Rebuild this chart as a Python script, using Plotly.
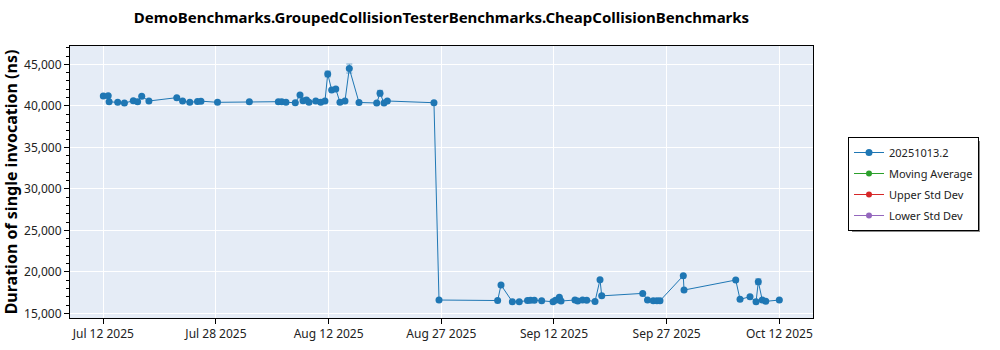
import plotly.graph_objects as go
from datetime import datetime, timedelta

title = "DemoBenchmarks.GroupedCollisionTesterBenchmarks.CheapCollisionBenchmarks"
y_title = "Duration of single invocation (ns)"

dates = [
    "2025-07-12 00:00", "2025-07-12 16:00", "2025-07-12 19:00", "2025-07-13 23:00",
    "2025-07-14 21:00", "2025-07-16 02:00", "2025-07-16 16:00", "2025-07-17 05:30",
    "2025-07-18 05:00", "2025-07-22 00:00", "2025-07-22 19:00", "2025-07-23 18:30",
    "2025-07-24 19:40", "2025-07-25 07:00", "2025-07-27 13:00", "2025-07-31 21:00",
    "2025-08-04 19:40", "2025-08-05 06:40", "2025-08-05 20:40", "2025-08-07 03:00",
    "2025-08-07 18:30", "2025-08-08 04:20", "2025-08-08 15:40", "2025-08-08 23:45",
    "2025-08-09 22:00", "2025-08-10 14:10", "2025-08-11 04:00", "2025-08-11 13:00",
    "2025-08-12 02:00", "2025-08-12 15:20", "2025-08-13 05:00", "2025-08-13 21:20",
    "2025-08-14 11:30", "2025-08-15 19:10", "2025-08-18 05:00", "2025-08-18 15:50",
    "2025-08-19 04:50", "2025-08-19 15:40", "2025-08-26 00:00", "2025-08-26 16:30",
    "2025-09-03 16:00", "2025-09-04 03:00", "2025-09-05 16:00", "2025-09-06 14:40",
    "2025-09-07 17:30", "2025-09-08 03:20", "2025-09-08 15:50", "2025-09-09 15:50",
    "2025-09-11 04:50", "2025-09-11 13:00", "2025-09-12 01:30", "2025-09-12 07:00",
    "2025-09-14 04:30", "2025-09-14 13:40", "2025-09-15 05:20", "2025-09-15 19:00",
    "2025-09-16 22:00", "2025-09-17 14:20", "2025-09-17 20:00", "2025-09-23 09:50",
    "2025-09-24 01:30", "2025-09-24 20:20", "2025-09-25 08:20", "2025-09-25 18:15",
    "2025-09-28 22:20", "2025-09-29 00:45", "2025-10-06 01:40", "2025-10-06 15:40",
    "2025-10-08 00:15", "2025-10-08 20:00", "2025-10-09 03:20", "2025-10-09 16:20",
    "2025-10-10 03:40", "2025-10-12 00:00",
]

values = [
    41180, 41200, 40490, 40420,
    40340, 40600, 40480, 41150,
    40580, 40980, 40580, 40420,
    40520, 40560, 40420, 40490,
    40490, 40500, 40420, 40370,
    41300, 40610, 40700, 40420,
    40580, 40420, 40580, 43830,
    41900, 42020, 40420, 40580,
    44490, 40400, 40340, 41510,
    40340, 40580, 40370, 16600,
    16540, 18410, 16390, 16390,
    16540, 16560, 16560, 16510,
    16390, 16560, 16920, 16480,
    16600, 16480, 16600, 16560,
    16420, 19050, 17100, 17400,
    16600, 16510, 16510, 16510,
    19530, 17800, 19010, 16680,
    17000, 16390, 18800, 16600,
    16440, 16600,
]

errors = [None] * len(values)
errors[27] = 350
errors[32] = 540
errors[35] = 350
errors[70] = 350

tick_labels = ["Jul 12 2025", "Jul 28 2025", "Aug 12 2025", "Aug 27 2025",
               "Sep 12 2025", "Sep 27 2025", "Oct 12 2025"]

series_names = ["20251013.2", "Moving Average", "Upper Std Dev", "Lower Std Dev"]
series_colors = ["#1f77b4", "#2ca02c", "#d62728", "#9467bd"]

# evenly spaced ticks between first and last label dates
t0 = datetime(2025, 7, 12)
t1 = datetime(2025, 10, 12)
n = len(tick_labels) - 1
tickvals = [t0 + (t1 - t0) * k / n for k in range(n + 1)]

font_family = "Noto Sans, Open Sans, DejaVu Sans, sans-serif"

fig = go.Figure()
fig.add_trace(go.Scatter(
    x=dates, y=values, mode="lines+markers", name=series_names[0],
    line=dict(color=series_colors[0], width=1),
    marker=dict(color=series_colors[0], size=7),
    error_y=dict(type="data", array=errors, visible=True,
                 color="rgba(31,119,180,0.6)", thickness=1, width=3),
    legendgroup="a",
))
for nm, col, grp in zip(series_names[1:], series_colors[1:], ["b", "c", "d"]):
    fig.add_trace(go.Scatter(
        x=[None], y=[None], mode="lines+markers", name=nm,
        line=dict(color=col, width=1), marker=dict(color=col, size=6),
        legendgroup=grp,
    ))

L, R, T, B = 70, 187, 46, 32
W, H = 1000, 350
pw = W - L - R
ph = H - T - B

fig.update_layout(
    width=W, height=H,
    margin=dict(l=L, r=R, t=T, b=B, pad=0, autoexpand=False),
    paper_bgcolor="white",
    plot_bgcolor="#e5ecf6",
    font=dict(family=font_family, size=12, color="#222"),
    title=dict(text=f"<b>{title}</b>", x=(L + pw / 2) / W, xanchor="center",
               y=1 - 18 / H, yanchor="middle", yref="container",
               font=dict(size=15, color="black", family=font_family)),
    showlegend=True,
    legend=dict(x=(848 - L) / pw, y=(H - B - 137) / ph, xanchor="left", yanchor="top",
                bgcolor="white", bordercolor="black", borderwidth=1,
                font=dict(size=11, color="#222"), tracegroupgap=2,
                itemwidth=30),
    xaxis=dict(
        type="date",
        range=["2025-07-07 11:15", "2025-10-16 14:00"],
        tickvals=tickvals, ticktext=tick_labels,
        showgrid=True, gridcolor="white", gridwidth=1,
        showline=True, linecolor="black", linewidth=1, mirror=True,
        ticks="outside", ticklen=5, tickcolor="black",
        tickfont=dict(size=12, color="#222"),
        zeroline=False, automargin=False,
    ),
    yaxis=dict(
        range=[14434, 47205],
        tickvals=[15000, 20000, 25000, 30000, 35000, 40000, 45000],
        tickformat=",d",
        showgrid=True, gridcolor="white", gridwidth=1,
        showline=True, linecolor="black", linewidth=1, mirror=True,
        ticks="outside", ticklen=5, tickcolor="black",
        minor=dict(dtick=1000, ticks="outside", ticklen=3, tickcolor="black", showgrid=False),
        tickfont=dict(size=12, color="#222"),
        zeroline=False, automargin=False,
        title=dict(text=f"<b>{y_title}</b>", font=dict(size=16, color="black"), standoff=8),
    ),
)

# legend shadow (drawn in pixel terms relative to the paper area)
fig.add_shape(type="rect", xref="paper", yref="paper",
              x0=(852 - L) / pw, x1=(980 - L) / pw,
              y0=(H - B - 232) / ph, y1=(H - B - 141) / ph,
              fillcolor="#8a8a8a", line=dict(width=0), layer="below")

fig.write_html("out.html")
